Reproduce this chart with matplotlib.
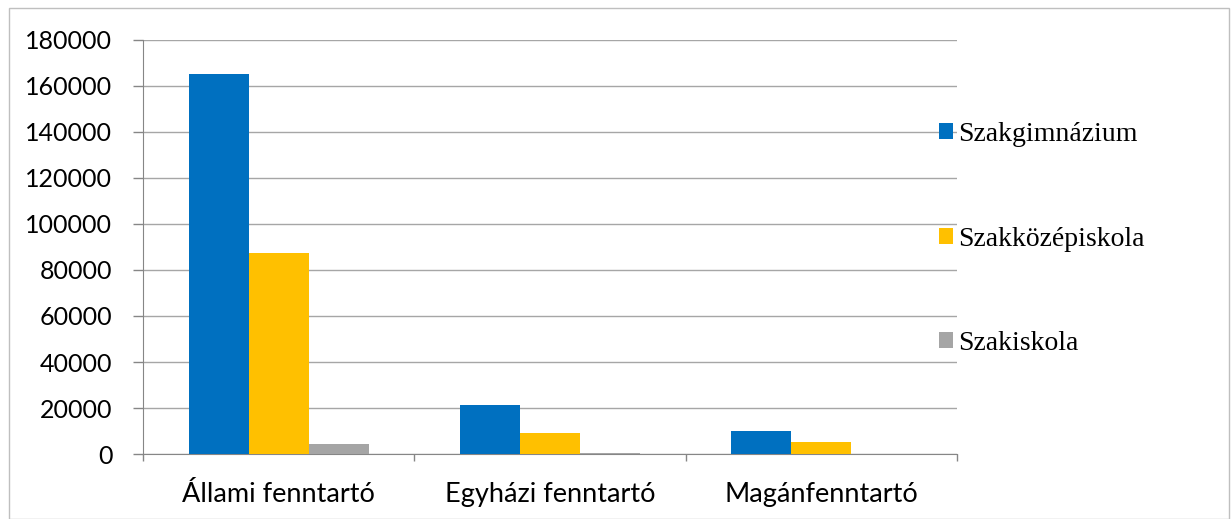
import numpy as np
import matplotlib.pyplot as plt
from matplotlib.patches import Rectangle

categories = ['Állami fenntartó', 'Egyházi fenntartó', 'Magánfenntartó']
series = ['Szakgimnázium', 'Szakközépiskola', 'Szakiskola']
szakgimnazium = [165000, 21500, 10000]
szakkozepiskola = [87200, 9000, 5300]
szakiskola = [4200, 400, 100]
colors = ['#0070C0', '#FFC000', '#A5A5A5']
yticks = list(range(0, 180001, 20000))

fig = plt.figure(figsize=(12.31, 5.19), dpi=100)
ax = fig.add_axes([143 / 1231, 1 - 454 / 519, (957 - 143) / 1231, (454 - 40) / 519])

x = np.arange(len(categories))
w = 0.221
for i, (vals, name) in enumerate(zip([szakgimnazium, szakkozepiskola, szakiskola], series)):
    ax.bar(x + (i - 1) * w, vals, w, color=colors[i], label=name, zorder=3)

ax.set_xlim(-0.5, 2.5)
ax.set_ylim(0, 180000)
ax.set_yticks(yticks)
ax.set_yticklabels([str(v) for v in yticks], fontfamily='Lato', fontsize=18)
ax.yaxis.grid(True, color='#a6a6a6', linewidth=1.0, zorder=0)

ax.set_xticks([-0.5, 0.5, 1.5, 2.5])
ax.set_xticklabels([])
ax.set_xticks(x, minor=True)
ax.set_xticklabels(categories, minor=True, fontfamily='Lato', fontsize=19.5)
ax.tick_params(axis='x', which='minor', length=0, pad=20)
ax.tick_params(axis='x', which='major', length=5, color='#868686', width=1)
ax.tick_params(axis='y', length=7, color='#868686', width=1, pad=15)

for s in ['top', 'right']:
    ax.spines[s].set_visible(False)
ax.spines['left'].set_color('#868686')
ax.spines['bottom'].set_color('#868686')

leg = ax.legend(loc='center left', bbox_to_anchor=(939 / 1231, 1 - 239 / 519),
                bbox_transform=fig.transFigure, frameon=False,
                prop={'family': 'Liberation Serif', 'size': 20},
                handlelength=0.5, handleheight=0.5, handletextpad=0.2,
                labelspacing=2.87, borderpad=0, borderaxespad=0)

fig.patches.append(Rectangle((9 / 1231, 0), (1229 - 9) / 1231, 1 - 8 / 519,
                             transform=fig.transFigure, fill=False,
                             edgecolor='#bfbfbf', linewidth=1))

fig.savefig('out.png', dpi=100)
